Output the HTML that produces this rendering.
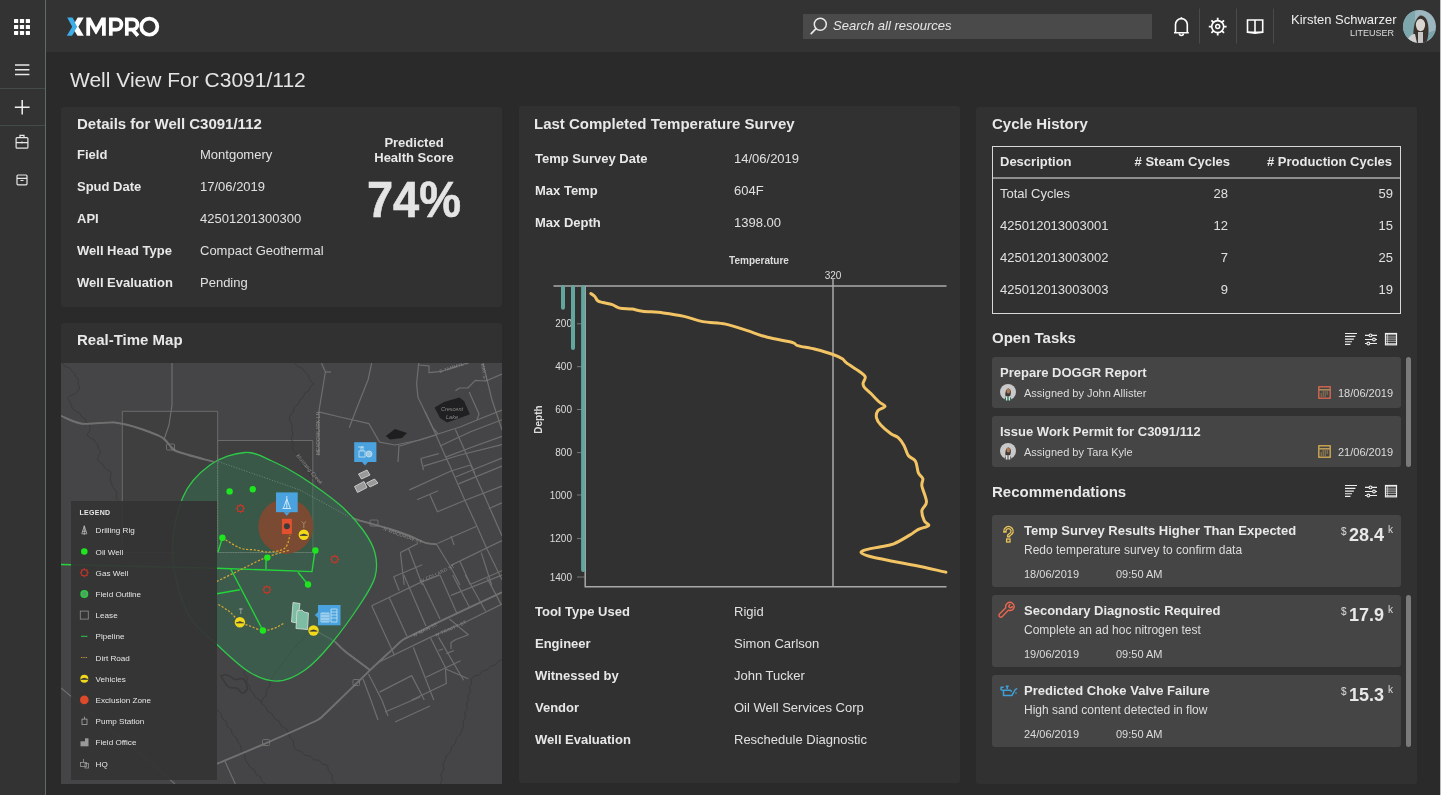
<!DOCTYPE html>
<html><head><meta charset="utf-8">
<style>
*{box-sizing:border-box;margin:0;padding:0}
html,body{width:1441px;height:795px;overflow:hidden;background:#2a2a2a;font-family:"Liberation Sans",sans-serif;color:#e6e6e6}
.a{position:absolute}
.t{white-space:nowrap;line-height:1}
#side{left:0;top:0;width:45px;height:795px;background:#333}
#sideline{left:45px;top:0;width:1px;height:795px;background:#5d6b6b}
#hdr{left:46px;top:0;width:1395px;height:52px;background:#333}
.panel{background:#313131;border-radius:3px}
.lbl{font-size:13px;font-weight:700;color:#e8e8e8}
.val{font-size:13px;color:#e0e0e0}
.ttl{font-size:15px;font-weight:700;color:#e8e8e8}
.card{background:#454545;border-radius:3px}
</style></head><body><div id="wrap" style="position:absolute;left:0;top:0;width:1441px;height:795px;will-change:transform">
<div id="side" class="a"></div>
<div id="sideline" class="a"></div>
<div id="hdr" class="a"></div>

<!-- sidebar icons -->
<svg class="a" style="left:0;top:0" width="45" height="200" viewBox="0 0 45 200">
 <g fill="#fff">
  <rect x="14" y="19" width="4.2" height="4" rx="0.6"/><rect x="19.9" y="19" width="4.2" height="4" rx="0.6"/><rect x="25.8" y="19" width="4.2" height="4" rx="0.6"/>
  <rect x="14" y="25" width="4.2" height="4" rx="0.6"/><rect x="19.9" y="25" width="4.2" height="4" rx="0.6"/><rect x="25.8" y="25" width="4.2" height="4" rx="0.6"/>
  <rect x="14" y="30.9" width="4.2" height="4" rx="0.6"/><rect x="19.9" y="30.9" width="4.2" height="4" rx="0.6"/><rect x="25.8" y="30.9" width="4.2" height="4" rx="0.6"/>
 </g>
 <g stroke="#e8e8e8" stroke-width="1.5" fill="none">
  <path d="M15 65h14.4M15 69.7h14.4M15 74.4h14.4"/>
  <path d="M22.2 100v14.6M14.8 107.3h14.8" stroke="#f0f0f0"/>
  <rect x="16.1" y="137.6" width="11.8" height="10.6" rx="1" stroke-width="1.2"/>
  <path d="M16.1 142.6h11.8M20 137.6v-2.2h4v2.2M22 141.5v2" stroke-width="1.2"/>
  <rect x="17" y="175" width="10" height="9.8" rx="1" stroke-width="1.2"/>
  <path d="M17 178.3h10M20.5 180.5h3" stroke-width="1.2"/>
 </g>
 <path d="M0 88.5h45M0 125.5h45" stroke="#444b4b" stroke-width="1"/>
</svg>
<!-- logo -->
<svg class="a" style="left:60px;top:10px" width="110" height="35" viewBox="60 10 110 35">
 <polygon fill="#3eaee8" points="67.2,17.6 72.5,17.6 77.6,26.7 72,35.8 66.8,35.8 72.2,26.7"/>
 <polygon fill="#fff" points="77.7,17.6 83.7,17.6 78.4,26.7 83.8,35.8 77.5,35.8 74.6,30.9 77.2,26.7 74.8,22.4"/>
 <polygon fill="#fff" points="86.3,35.8 86.3,17.6 90.6,17.6 96,27.4 101.4,17.6 105.8,17.6 105.8,35.8 102,35.8 102,24.8 96.4,34.2 95.6,34.2 90.1,24.8 90.1,35.8"/>
 <g fill="none" stroke="#fff" stroke-width="3.7">
  <path d="M110.8 35.8V19.45h5.6a5.05 5.05 0 0 1 0 10.1h-5.6"/>
  <path d="M126.8 35.8V19.45h5.6a5.05 5.05 0 0 1 0 10.1h-5.6M132.4 29.5l5.5 6.3"/>
  <circle cx="149.3" cy="26.7" r="8.05"/>
 </g>
</svg>
<!-- search -->
<div class="a" style="left:803px;top:14px;width:349px;height:25px;background:#4a4a4a"></div>
<svg class="a" style="left:808px;top:15px" width="22" height="22" viewBox="0 0 22 22">
 <circle cx="12.3" cy="9.3" r="6" fill="none" stroke="#e8e8e8" stroke-width="1.5"/>
 <path d="M8 13.6L3.2 18.6" stroke="#e8e8e8" stroke-width="1.7" stroke-linecap="round"/>
</svg>
<div class="a t" style="left:833px;top:19px;font-size:13px;font-style:italic;color:#e6e6e6">Search all resources</div>
<!-- header icons -->
<svg class="a" style="left:1165px;top:5px" width="120" height="42" viewBox="1165 5 120 42">
 <g fill="none" stroke="#fff" stroke-width="1.6">
  <path d="M1175.5 32.5V24.5a5.9 5.9 0 0 1 11.8 0V32.5M1174 32.8h14.8"/>
  <path d="M1181.4 17.2v1.2"/>
  <path d="M1179.4 33.5a2 2 0 0 0 4 0"/>
 </g>
 <path d="M1199.5 8.5v35M1236.5 8.5v35M1273.5 8.5v35" stroke="#4a4a4a" stroke-width="1"/>
 <g fill="none" stroke="#fff">
  <circle cx="1217.7" cy="26.6" r="6" stroke-width="1.6"/>
  <circle cx="1217.7" cy="26.6" r="2" stroke-width="1.5"/>
  <path d="M1217.7 17.7v2.9M1217.7 32.6v2.9M1208.8 26.6h2.9M1223.7 26.6h2.9M1211.4 20.3l2.1 2.1M1221.9 30.8l2.1 2.1M1224 20.3l-2.1 2.1M1213.5 30.8l-2.1 2.1" stroke-width="1.8"/>
 </g>
 <g fill="none" stroke="#fff" stroke-width="1.6">
  <path d="M1247.5 20v12.3h7.5v-12.3h-7.5zM1255 20h7.7v12.3h-7.7"/>
  <path d="M1247.5 32.3l7.5 0.8 7.7-0.8"/>
 </g>
</svg>
<div class="a t" style="left:1291px;top:13px;font-size:13px;color:#eee">Kirsten Schwarzer</div>
<div class="a t" style="left:1350px;top:29px;font-size:9px;color:#ddd">LITEUSER</div>
<svg class="a" style="left:1403px;top:10px" width="33" height="33" viewBox="0 0 33 33">
 <defs><clipPath id="av"><circle cx="16.5" cy="16.5" r="16.5"/></clipPath></defs>
 <g clip-path="url(#av)">
  <rect width="33" height="33" fill="#9cb7bf"/>
  <rect width="12" height="33" fill="#7ea6ad"/>
  <path d="M22 24 L33 20 V33 H24z" fill="#7aa3ab"/>
  <path d="M10.5 33 C10 22 10 10 17 5.5 C23 5 25.5 12 25.5 20 C25.5 27 24 31 23 33z" fill="#3b332e"/>
  <ellipse cx="17.5" cy="15" rx="4.6" ry="6.2" fill="#d9d5d0"/>
  <path d="M4 33 C5 26 9 24 12 24 L14 33z" fill="#d0d0d0"/>
  <path d="M15 22 h5 v11 h-5z" fill="#c7c7c7"/>
 </g>
</svg>

<!-- Title -->
<div class="a t" style="left:70px;top:69px;font-size:21px;color:#e4e4e4">Well View For C3091/112</div>

<!-- Panel 1 details -->
<div class="a panel" style="left:61px;top:107px;width:441px;height:200px"></div>
<div class="a t ttl" style="left:77px;top:116px">Details for Well C3091/112</div>
<div class="a t lbl" style="left:77px;top:148px">Field</div><div class="a t val" style="left:200px;top:148px">Montgomery</div>
<div class="a t lbl" style="left:77px;top:180px">Spud Date</div><div class="a t val" style="left:200px;top:180px">17/06/2019</div>
<div class="a t lbl" style="left:77px;top:212px">API</div><div class="a t val" style="left:200px;top:212px">42501201300300</div>
<div class="a t lbl" style="left:77px;top:244px">Well Head Type</div><div class="a t val" style="left:200px;top:244px">Compact Geothermal</div>
<div class="a t lbl" style="left:77px;top:276px">Well Evaluation</div><div class="a t val" style="left:200px;top:276px">Pending</div>
<div class="a lbl" style="left:354px;top:135px;width:120px;text-align:center;line-height:15px">Predicted<br>Health Score</div>
<div class="a t" style="left:354px;top:175px;width:120px;text-align:center;font-size:50px;font-weight:700;color:#e4e4e4;transform:scaleX(0.94);-webkit-text-stroke:0.6px #e4e4e4">74%</div>

<!-- Panel 2 map -->
<div class="a panel" style="left:61px;top:323px;width:441px;height:461px"></div>
<div class="a t ttl" style="left:77px;top:332px">Real-Time Map</div>
<!--MAP-->
<svg class="a" style="left:61px;top:363px" width="441" height="421" viewBox="61 363 441 421">
<rect x="61" y="363" width="441" height="421" fill="#454547"/>
<path d="M122.3 411.3H217.7V552.5H122.3Z" fill="#3f3f3f" stroke="#6b6b6b" stroke-width="1"/>
<path d="M217.7 440.5H312.8V552.5H217.7Z" fill="#3f3f3f" stroke="#6b6b6b" stroke-width="1"/>
<path d="M62.3 363.0 C62.7 363.5 63.8 365.5 64.9 366.2 C66.0 367.0 67.9 366.9 69.0 367.7 C70.1 368.4 70.7 370.0 71.6 370.9 C72.5 371.8 73.8 372.1 74.4 373.0 C75.0 374.0 74.8 375.7 75.4 376.7 C76.0 377.6 77.8 377.7 78.2 378.8 C78.6 379.9 77.8 382.0 78.1 383.6 C78.3 385.1 79.7 386.7 79.5 388.1 C79.3 389.5 77.9 390.9 76.8 392.0 C75.7 393.1 74.1 394.0 72.9 394.7 C71.7 395.4 70.7 395.4 69.8 396.1 C68.9 396.7 67.5 397.7 67.6 398.7 C67.7 399.7 69.6 401.0 70.3 402.3 C71.0 403.6 71.0 405.3 71.6 406.6 C72.2 407.9 72.8 408.9 73.6 409.8 C74.5 410.7 75.7 411.3 76.8 411.9 C77.9 412.5 79.2 412.6 80.0 413.5 C80.8 414.3 80.8 416.1 81.6 416.9 C82.4 417.8 84.1 417.7 84.8 418.5 C85.5 419.3 85.1 421.0 85.8 422.0 C86.5 422.9 88.3 423.3 89.0 424.2 C89.7 425.2 89.9 426.5 90.0 427.7 C90.1 428.9 89.9 430.2 89.4 431.3 C89.0 432.4 87.4 433.3 87.4 434.3 C87.4 435.3 88.5 436.7 89.5 437.5 C90.4 438.3 92.3 438.2 93.2 439.0 C94.2 439.8 94.5 441.2 95.3 442.2 C96.1 443.2 97.3 443.8 97.8 444.9 C98.2 446.0 97.7 447.7 98.1 448.8 C98.6 449.9 100.5 450.3 100.6 451.5 C100.7 452.7 99.0 454.3 98.5 455.9 C98.1 457.4 97.4 459.4 98.0 460.7 C98.6 462.0 100.8 462.3 101.9 463.4 C103.0 464.5 103.8 466.2 104.6 467.3 C105.4 468.4 105.9 469.3 106.8 469.9 C107.7 470.6 109.2 470.5 109.9 471.3 C110.6 472.1 111.1 473.5 111.1 474.7 C111.1 475.9 110.0 477.2 110.0 478.4 C110.0 479.6 110.8 480.5 111.2 481.8 C111.6 483.1 111.8 484.8 112.4 486.2 C113.1 487.5 114.4 488.6 115.1 489.8 C115.8 491.0 116.6 491.9 116.8 493.1 C116.9 494.3 116.0 495.8 116.1 497.0 C116.3 498.2 117.5 499.7 117.8 500.3" fill="none" stroke="#393939" stroke-width="0.9"/>
<path d="M295.0 363.0 C295.5 363.6 296.6 365.7 297.8 366.6 C299.0 367.5 301.0 367.5 302.2 368.4 C303.4 369.3 303.9 370.8 305.0 372.0 C306.1 373.2 307.7 374.1 308.5 375.5 C309.4 376.9 309.2 379.1 310.1 380.5 C310.9 381.9 313.6 383.0 313.6 384.0 C313.6 385.0 311.1 385.5 310.3 386.7 C309.5 387.8 309.7 389.9 308.8 390.9 C307.9 392.0 305.7 392.0 304.8 393.1 C303.9 394.1 304.1 396.2 303.3 397.3 C302.5 398.5 300.9 398.8 300.0 400.0 C299.1 401.2 299.1 403.1 298.1 404.4 C297.2 405.6 295.1 406.1 294.2 407.5 C293.4 408.8 293.8 410.9 293.0 412.3 C292.3 413.7 290.3 414.4 289.8 415.8 C289.3 417.2 289.4 419.1 289.7 420.7 C290.1 422.2 291.7 423.6 292.1 425.1 C292.4 426.7 291.9 428.5 292.0 430.0 C292.1 431.5 293.0 432.9 292.9 434.4 C292.8 435.8 291.4 437.3 291.4 438.8 C291.4 440.2 292.9 441.7 293.1 443.1 C293.3 444.6 292.3 446.1 292.4 447.5 C292.5 448.9 293.0 450.5 293.8 451.6 C294.6 452.8 296.6 453.4 297.3 454.6 C298.0 455.9 297.3 457.9 298.0 459.1 C298.7 460.4 300.8 460.9 301.5 462.1 C302.2 463.4 301.6 465.3 302.2 466.6 C302.8 468.0 303.9 469.0 305.0 470.0 C306.1 471.0 307.9 471.6 308.9 472.8 C309.9 474.1 309.9 476.2 311.0 477.4 C312.1 478.5 314.4 478.5 315.5 479.6 C316.6 480.8 316.6 482.9 317.6 484.2 C318.6 485.4 320.9 486.5 321.5 487.0" fill="none" stroke="#393939" stroke-width="0.9"/>
<path d="M308.0 633.9 C307.4 634.3 305.3 635.3 304.3 636.4 C303.4 637.6 303.4 639.6 302.4 640.7 C301.3 641.7 299.2 641.6 298.1 642.6 C297.1 643.7 297.1 645.7 296.2 646.9 C295.2 648.0 293.5 648.3 292.5 649.4 C291.5 650.5 291.4 652.5 290.4 653.7 C289.3 655.0 287.2 655.4 286.3 656.7 C285.4 658.0 285.7 660.2 284.8 661.5 C283.9 662.8 281.6 663.1 280.7 664.4 C279.8 665.7 280.1 667.9 279.2 669.2 C278.3 670.5 276.2 670.9 275.1 672.2 C274.1 673.4 273.8 675.1 273.0 676.5 C272.2 677.9 270.9 679.1 270.3 680.7 C269.8 682.3 270.5 684.3 269.9 685.8 C269.3 687.4 267.2 688.2 266.5 689.7 C265.9 691.2 266.7 693.4 266.1 694.9 C265.4 696.4 263.4 697.3 262.7 698.8 C261.9 700.2 261.0 702.3 261.5 703.6 C262.0 704.9 264.4 705.4 265.5 706.7 C266.5 708.0 266.6 710.2 267.7 711.4 C268.8 712.6 271.1 712.8 272.2 714.0 C273.4 715.2 273.3 717.5 274.5 718.7 C275.6 719.9 277.9 720.0 279.0 721.2 C280.2 722.5 280.1 724.8 281.2 726.0 C282.4 727.2 284.6 727.4 285.8 728.5 C287.0 729.6 287.9 731.2 288.6 732.7 C289.3 734.2 289.0 736.0 289.8 737.4 C290.6 738.7 292.6 739.6 293.2 741.0 C293.9 742.5 293.2 744.5 293.7 746.0 C294.2 747.5 295.2 749.1 296.4 750.0 C297.6 750.9 299.8 750.7 301.2 751.5 C302.6 752.4 303.4 754.4 304.9 755.2 C306.3 755.9 308.5 755.2 310.0 756.0 C311.5 756.7 312.2 758.9 313.7 759.6 C315.2 760.4 317.4 759.7 318.8 760.4 C320.3 761.2 321.1 763.2 322.5 764.1 C323.9 764.9 326.3 764.5 327.3 765.6 C328.3 766.7 327.7 769.0 328.5 770.5 C329.3 772.0 331.2 773.0 331.9 774.5 C332.5 776.0 331.8 778.1 332.3 779.7 C332.9 781.3 334.6 783.3 335.0 784.0" fill="none" stroke="#393939" stroke-width="0.9"/>
<path d="M215.0 705.5 C215.3 706.3 215.9 708.7 216.9 710.0 C217.9 711.3 220.0 711.9 220.8 713.3 C221.7 714.6 221.2 716.8 222.1 718.2 C222.9 719.6 225.1 720.1 226.0 721.4 C226.8 722.8 226.4 725.0 227.2 726.4 C228.1 727.7 230.3 728.2 231.1 729.6 C232.0 731.0 231.5 733.2 232.4 734.5 C233.2 735.9 235.3 736.5 236.3 737.8 C237.3 739.1 237.4 740.9 238.2 742.3 C239.0 743.7 240.4 744.8 240.9 746.2 C241.4 747.7 240.7 749.8 241.4 751.2 C242.0 752.6 244.2 753.4 244.8 754.8 C245.5 756.2 244.8 758.3 245.3 759.8 C245.8 761.2 247.2 762.4 248.0 763.7 C248.8 765.0 249.2 766.6 250.3 767.6 C251.4 768.6 253.4 768.8 254.4 769.9 C255.4 771.1 255.1 773.2 256.1 774.4 C257.1 775.5 259.2 775.6 260.2 776.7 C261.2 777.8 261.0 779.9 261.9 781.1 C262.8 782.4 264.8 783.5 265.4 784.0" fill="none" stroke="#393939" stroke-width="0.9"/>
<path d="M502.0 659.9 C501.3 660.2 499.0 660.7 497.8 661.6 C496.6 662.5 496.1 664.5 494.8 665.3 C493.5 666.1 491.4 665.5 490.1 666.3 C488.9 667.1 488.4 669.2 487.2 670.0 C485.9 670.8 483.8 670.2 482.5 671.0 C481.2 671.8 480.8 674.0 479.5 674.8 C478.3 675.5 476.2 675.1 474.9 675.8 C473.6 676.4 472.0 677.6 471.5 678.8 C471.0 680.0 472.0 681.8 471.7 683.2 C471.3 684.6 469.6 685.7 469.4 687.2 C469.2 688.6 470.6 690.2 470.4 691.6 C470.2 693.1 468.5 694.2 468.1 695.6 C467.8 697.0 468.6 698.6 468.3 700.0 C468.0 701.4 466.8 702.7 466.6 704.1 C466.4 705.6 467.6 707.3 467.3 708.7 C467.0 710.2 465.1 711.3 464.8 712.7 C464.5 714.1 465.8 715.9 465.5 717.3 C465.2 718.7 463.3 719.8 463.0 721.3 C462.7 722.7 463.9 724.4 463.7 725.9 C463.5 727.3 462.6 728.5 462.0 730.0 C461.4 731.5 461.2 733.3 460.3 734.7 C459.3 736.0 457.3 736.7 456.4 738.2 C455.6 739.6 456.2 741.8 455.4 743.3 C454.6 744.7 452.4 745.3 451.6 746.7 C450.8 748.2 451.4 750.4 450.6 751.8 C449.7 753.3 447.7 754.0 446.7 755.3 C445.8 756.7 445.6 758.4 445.0 760.0 C444.4 761.6 443.4 763.0 443.2 764.6 C443.0 766.3 444.1 768.2 443.8 769.8 C443.4 771.4 441.6 772.6 441.2 774.2 C440.9 775.8 442.0 777.7 441.8 779.4 C441.6 781.0 440.3 783.2 440.0 784.0" fill="none" stroke="#393939" stroke-width="0.9"/>
<path d="M244.0 670.7 C244.1 671.4 243.9 673.6 244.4 674.8 C245.0 676.0 246.8 676.9 247.2 678.2 C247.6 679.5 246.4 681.2 246.8 682.5 C247.2 683.8 249.0 684.7 249.6 685.9 C250.1 687.1 249.3 688.8 250.0 690.0 C250.7 691.2 252.6 691.7 253.5 692.9 C254.3 694.1 254.2 696.2 255.1 697.3 C256.1 698.4 258.2 698.6 259.2 699.7 C260.3 700.7 261.1 702.9 261.5 703.6" fill="none" stroke="#393939" stroke-width="0.9"/>
<g fill="none" stroke="#6e6e6e" stroke-width="1.2" stroke-linejoin="round">
<path d="M61.0 415.8 L70.0 419.5 L82.0 423.7 L100.0 423.0 L113.8 422.4 L135.0 427.0 L161.4 437.0 L169.3 444.9 L177.2 451.5 L214.2 462.0"/>
<path d="M172.0 363.0 L172.0 405.0 L169.0 425.0 L164.0 439.6"/>
<path d="M321.5 363.0 L325.4 372.0 L318.8 411.9 L340.0 417.0 L369.0 423.7 L379.6 442.2 L395.0 445.0 L420.0 440.0 L436.0 435.0"/>
<path d="M371.7 363.0 L368.0 380.0 L358.0 405.0 L349.2 427.7"/>
<path d="M318.8 411.9 L318.8 455.4"/>
<path d="M399.0 445.0 L398.0 462.0"/>
<path d="M325.0 372.0 L331.0 372.0"/>
<path d="M352.0 518.0 L358.5 520.1 L390.0 529.0 L410.0 536.0 L425.3 542.8 L436.6 544.3 L451.0 567.7 L460.0 585.0"/>
<path d="M400.4 552.6 L417.8 543.5"/>
<path d="M400.4 552.6 L404.2 585.0"/>
<path d="M408.7 548.8 L422.3 585.0"/>
<path d="M418.7 363.0 L416.6 383.8 L418.0 397.6 L424.9 411.4 L436.0 435.0 L445.7 457.1 L449.5 465.0 L464.6 499.7 L476.6 525.4 L487.2 549.6 L502.0 579.8"/>
<path d="M483.0 363.0 L492.0 400.0 L502.0 430.0"/>
<path d="M470.6 465.0 L484.2 495.2 L502.0 536.0"/>
<path d="M418.7 365.0 L429.0 365.8 L429.0 372.7 L441.5 371.3 L467.8 363.0"/>
<path d="M455.4 390.7 L459.5 388.0 L467.8 388.0 L475.4 380.3 L485.8 381.0 L502.0 374.0"/>
<path d="M424.9 411.4 L433.0 428.0 L438.0 434.0"/>
<path d="M477.0 420.0 L479.0 414.0 L469.2 392.0"/>
<path d="M400.0 446.0 L438.0 434.0 L460.0 427.0 L477.0 420.0 L502.0 410.0"/>
<path d="M440.0 446.0 L470.0 432.0 L502.0 419.7"/>
<path d="M445.7 457.1 L475.0 446.0 L502.0 436.4"/>
<path d="M420.8 458.5 L438.8 453.6"/>
<path d="M420.8 458.5 L423.5 470.0"/>
<path d="M423.5 466.1 L460.0 455.0 L502.0 444.7"/>
<path d="M455.4 429.4 L474.7 473.0"/>
<path d="M409.4 489.9 L451.0 471.0 L470.6 465.0"/>
<path d="M455.5 477.0 L473.6 469.5 L502.0 458.0"/>
<path d="M458.5 483.9 L502.0 466.0"/>
<path d="M417.0 499.7 L438.1 490.7"/>
<path d="M429.8 494.4 L437.4 511.8 L464.6 500.5 L502.0 486.1"/>
<path d="M437.4 543.5 L476.6 526.2"/>
<path d="M488.7 508.8 L502.0 502.8"/>
<path d="M451.0 565.4 L502.0 540.5"/>
<path d="M470.6 584.3 L502.0 570.7"/>
<path d="M393.6 576.7 L422.3 564.7"/>
<path d="M460.0 561.6 L470.6 585.0"/>
<path d="M481.2 552.6 L491.7 585.0"/>
<path d="M451.0 536.0 L454.0 545.0"/>
<path d="M318.0 632.0 L335.0 641.6 L345.0 651.3 L370.1 670.1"/>
<path d="M217.0 763.7 L263.4 744.3 L315.7 721.0 L323.5 715.2 L339.4 700.0 L370.1 670.1 L392.9 648.9 L402.3 640.2 L413.3 634.7 L440.0 621.4 L502.0 592.3"/>
<path d="M377.2 663.0 L430.6 637.1 L465.2 622.2 L502.0 604.1"/>
<path d="M371.7 605.7 L421.2 582.1 L440.0 575.0"/>
<path d="M371.7 605.7 L394.5 655.2"/>
<path d="M389.0 597.0 L407.0 636.3"/>
<path d="M403.9 575.0 L425.9 626.1"/>
<path d="M422.7 582.9 L440.0 619.0"/>
<path d="M393.7 576.6 L399.2 590.7"/>
<path d="M440.0 575.0 L457.3 614.3"/>
<path d="M452.6 575.0 L469.9 608.0"/>
<path d="M465.2 575.0 L485.6 611.2"/>
<path d="M487.2 578.1 L501.3 604.9"/>
<path d="M451.0 595.4 L502.0 575.0"/>
<path d="M413.3 647.3 L433.8 700.0"/>
<path d="M430.6 637.9 L446.3 669.3 L468.3 678.8"/>
<path d="M438.5 637.1 L463.6 680.3"/>
<path d="M449.5 619.0 L468.3 634.7 L455.8 639.5 L451.0 642.6 L451.0 649.0"/>
<path d="M438.5 650.5 L443.0 649.0"/>
<path d="M446.3 653.6 L454.0 650.5"/>
<path d="M425.9 677.2 L460.5 660.7"/>
<path d="M379.5 692.1 L411.7 675.6 L424.3 700.0"/>
<path d="M363.0 678.8 L370.9 700.0"/>
<path d="M368.5 674.0 L381.9 700.0"/>
<path d="M411.7 700.0 L446.3 683.5 L445.5 669.0"/>
<path d="M370.9 700.0 L378.0 720.0"/>
<path d="M381.9 700.0 L388.0 716.0"/>
<path d="M385.0 712.0 L420.0 697.0"/>
<path d="M395.0 722.0 L430.0 706.0"/>
<path d="M224.7 760.7 L235.3 784.0"/>
<path d="M61.0 688.0 L90.0 712.0 L120.0 737.0 L150.0 762.0 L175.0 784.0"/>
</g>
<g fill="none" stroke="#707070" stroke-width="1.9" stroke-linejoin="round">
<path d="M61.0 415.8 C64.5 417.1 73.2 422.6 82.0 423.7 C90.8 424.8 105.0 421.8 113.8 422.4 C122.6 422.9 127.1 424.6 135.0 427.0 C142.9 429.4 155.7 434.0 161.4 437.0 C167.1 440.0 166.7 442.5 169.3 444.9 C171.9 447.3 169.7 448.6 177.2 451.5 C184.7 454.4 208.0 460.2 214.2 462.0"/>
<path d="M352.0 518.0 C353.1 518.4 352.2 518.3 358.5 520.1 C364.8 521.9 381.4 526.4 390.0 529.0 C398.6 531.6 404.1 533.7 410.0 536.0 C415.9 538.3 420.9 541.4 425.3 542.8 C429.7 544.2 434.7 544.0 436.6 544.3"/>
<path d="M217.0 763.7 C224.7 760.5 246.9 751.4 263.4 744.3 C279.8 737.2 305.7 725.9 315.7 721.0 C325.7 716.1 319.6 718.7 323.5 715.2 C327.4 711.7 331.6 707.5 339.4 700.0 C347.2 692.5 361.2 678.6 370.1 670.1 C379.0 661.6 387.5 653.9 392.9 648.9 C398.3 643.9 398.9 642.6 402.3 640.2 C405.7 637.8 407.0 637.8 413.3 634.7 C419.6 631.6 425.2 628.5 440.0 621.4 C454.8 614.3 491.7 597.1 502.0 592.3"/>
<path d="M335.0 641.6 C336.7 643.2 339.1 646.5 345.0 651.3 C350.9 656.0 365.9 667.0 370.1 670.1"/>
</g>
<path d="M221 676 q6 -3 10 1 q4 4 8 2 q5 -2 7 4 q3 6 -1 9 q-3 3 -5 -1 q-3 -4 -7 -3 q-5 0 -7 -4 q-3 -4 -5 -8z" fill="none" stroke="#3a3a3a" stroke-width="1.6"/>
<path d="M434.6 407.5 L444 402 L459.5 397.6 L464 401 L469.9 414.2 L460 418 L447 422.5 L440 418Z" fill="#202022"/>
<path d="M385.8 436 L395 429 L407 433 L402 438 L390 439.6Z" fill="#1e1e1e"/>
<g font-family="Liberation Sans" font-style="italic" font-size="5.5" fill="#8a8a8a" text-anchor="middle"><text x="452" y="411">Crescent</text><text x="452" y="419">Lake</text></g>
<path d="M245.0 452.5 C255.3 451.8 262.8 457.1 272.0 461.0 C281.2 464.9 288.7 468.7 300.0 476.0 C311.3 483.3 329.5 496.0 340.0 505.0 C350.5 514.0 357.2 522.0 363.0 530.0 C368.8 538.0 373.0 545.2 375.0 553.0 C377.0 560.8 377.3 568.7 375.0 577.0 C372.7 585.3 368.3 591.8 361.0 603.0 C353.7 614.2 340.3 632.8 331.0 644.0 C321.7 655.2 313.8 663.8 305.0 670.0 C296.2 676.2 287.2 680.6 278.0 681.0 C268.8 681.4 260.1 678.5 250.0 672.5 C239.9 666.5 228.0 655.1 217.5 645.0 C207.0 634.9 194.5 627.3 187.0 612.0 C179.5 596.7 173.2 572.2 172.5 553.0 C171.8 533.8 176.8 511.7 183.0 497.0 C189.2 482.3 199.7 472.4 210.0 465.0 C220.3 457.6 234.7 453.2 245.0 452.5Z" fill="#347252" fill-opacity="0.5" stroke="#2fc94a" stroke-width="1.3"/>
<path d="M217.7 455V552.5H312.8" fill="none" stroke="#7a8a80" stroke-width="0.8" stroke-dasharray="1.5 1" opacity="0.8"/>
<path d="M215.8 460.7L260 476L300 490L347.9 516.2" fill="none" stroke="#8a9a95" stroke-width="1" stroke-dasharray="1.2 1.5" opacity="0.6"/>
<circle cx="285.8" cy="526.4" r="27.5" fill="#7a4a32"/>
<g fill="none" stroke="#24d43a" stroke-width="1.4">
<path d="M61.0 564.5 L216.9 568.2 L312.0 571.6 L315.0 550.7"/>
<path d="M266.0 557.5 L266.0 569.0"/>
<path d="M298.0 572.2 L308.0 584.5"/>
<path d="M230.7 569.0 L262.9 630.5"/>
<path d="M216.9 593.7 L239.9 589.7"/>
<path d="M222.4 537.8 L218.0 552.0"/>
</g>
<g fill="none" stroke="#d9a932" stroke-width="1.2" stroke-dasharray="2.2 1.6">
<path d="M222.4 537.8 C225.3 539.5 234.6 546.0 240.0 548.0 C245.4 550.0 250.0 549.3 255.0 550.0 C260.0 550.7 265.0 552.3 270.0 552.0 C275.0 551.7 281.7 550.8 285.0 548.0 C288.3 545.2 289.2 537.2 290.0 535.0"/>
<path d="M216.9 581.4 C220.8 579.5 231.8 574.0 240.0 570.0 C248.2 566.0 257.7 560.8 266.0 557.5 C274.3 554.2 286.0 551.2 290.0 550.0"/>
<path d="M218.4 604.4 C220.3 605.7 226.4 609.0 230.0 612.0 C233.6 615.0 236.6 619.9 239.9 622.2 C243.2 624.5 246.2 624.6 250.0 626.0 C253.8 627.4 258.7 630.2 262.9 630.5 C267.1 630.8 271.4 629.3 275.0 628.0 C278.6 626.7 282.8 623.7 284.4 622.8"/>
</g>
<circle cx="229.6" cy="491.4" r="3.2" fill="#1ee61e"/><circle cx="252.8" cy="489.2" r="3.2" fill="#1ee61e"/><circle cx="222.4" cy="537.8" r="3.2" fill="#1ee61e"/><circle cx="267.3" cy="557.6" r="3.2" fill="#1ee61e"/><circle cx="315.4" cy="550.5" r="3.2" fill="#1ee61e"/><circle cx="308" cy="584.5" r="3.2" fill="#1ee61e"/><circle cx="262.9" cy="630.5" r="3.2" fill="#1ee61e"/>
<circle cx="240.4" cy="508.5" r="3.1" fill="none" stroke="#c0392b" stroke-width="1.2"/><path d="M243.50 508.50L244.90 508.50" stroke="#c0392b" stroke-width="1.1"/><path d="M242.59 510.69L243.58 511.68" stroke="#c0392b" stroke-width="1.1"/><path d="M240.40 511.60L240.40 513.00" stroke="#c0392b" stroke-width="1.1"/><path d="M238.21 510.69L237.22 511.68" stroke="#c0392b" stroke-width="1.1"/><path d="M237.30 508.50L235.90 508.50" stroke="#c0392b" stroke-width="1.1"/><path d="M238.21 506.31L237.22 505.32" stroke="#c0392b" stroke-width="1.1"/><path d="M240.40 505.40L240.40 504.00" stroke="#c0392b" stroke-width="1.1"/><path d="M242.59 506.31L243.58 505.32" stroke="#c0392b" stroke-width="1.1"/><circle cx="334.7" cy="559.3" r="3.1" fill="none" stroke="#c0392b" stroke-width="1.2"/><path d="M337.80 559.30L339.20 559.30" stroke="#c0392b" stroke-width="1.1"/><path d="M336.89 561.49L337.88 562.48" stroke="#c0392b" stroke-width="1.1"/><path d="M334.70 562.40L334.70 563.80" stroke="#c0392b" stroke-width="1.1"/><path d="M332.51 561.49L331.52 562.48" stroke="#c0392b" stroke-width="1.1"/><path d="M331.60 559.30L330.20 559.30" stroke="#c0392b" stroke-width="1.1"/><path d="M332.51 557.11L331.52 556.12" stroke="#c0392b" stroke-width="1.1"/><path d="M334.70 556.20L334.70 554.80" stroke="#c0392b" stroke-width="1.1"/><path d="M336.89 557.11L337.88 556.12" stroke="#c0392b" stroke-width="1.1"/><circle cx="266.9" cy="589.7" r="3.1" fill="none" stroke="#c0392b" stroke-width="1.2"/><path d="M270.00 589.70L271.40 589.70" stroke="#c0392b" stroke-width="1.1"/><path d="M269.09 591.89L270.08 592.88" stroke="#c0392b" stroke-width="1.1"/><path d="M266.90 592.80L266.90 594.20" stroke="#c0392b" stroke-width="1.1"/><path d="M264.71 591.89L263.72 592.88" stroke="#c0392b" stroke-width="1.1"/><path d="M263.80 589.70L262.40 589.70" stroke="#c0392b" stroke-width="1.1"/><path d="M264.71 587.51L263.72 586.52" stroke="#c0392b" stroke-width="1.1"/><path d="M266.90 586.60L266.90 585.20" stroke="#c0392b" stroke-width="1.1"/><path d="M269.09 587.51L270.08 586.52" stroke="#c0392b" stroke-width="1.1"/>
<rect x="276" y="492.4" width="21.7" height="19.8" fill="#4aa3df"/><path d="M283.6 512.2L286.8 515.8L290 512.2Z" fill="#4aa3df"/>
<path d="M286.8 496v12M283.5 508l3.3-9 3.3 9M282.5 508.5h8.6" stroke="#d8ecf8" stroke-width="0.9" fill="none"/>
<rect x="281.9" y="518.8" width="10" height="15.3" fill="#e2502f"/><circle cx="286.9" cy="526.2" r="3" fill="#3b3b3b"/>
<path d="M303.8 528v-5M301.5 521.5l2.3 2 2.3-2" stroke="#a08a6a" stroke-width="1" fill="none"/>
<circle cx="303.8" cy="534.7" r="5.2" fill="#f2d81a"/><path d="M300.6 535.2q3.2 -3 6.4 0z" fill="#3a3a3a"/><path d="M300.0 535.3000000000001h7.6" stroke="#3a3a3a" stroke-width="1"/>
<circle cx="239.9" cy="622.2" r="5.2" fill="#f2d81a"/><path d="M236.70000000000002 622.7q3.2 -3 6.4 0z" fill="#3a3a3a"/><path d="M236.1 622.8000000000001h7.6" stroke="#3a3a3a" stroke-width="1"/>
<circle cx="313.5" cy="630.5" r="5.2" fill="#f2d81a"/><path d="M310.3 631.0q3.2 -3 6.4 0z" fill="#3a3a3a"/><path d="M309.7 631.1h7.6" stroke="#3a3a3a" stroke-width="1"/>
<rect x="354.2" y="442.2" width="22.2" height="19.8" fill="#4aa3df"/><path d="M362 462L365 465.5L368 462Z" fill="#4aa3df"/>
<g stroke="#c9e3f3" stroke-width="0.8" fill="none"><rect x="359" y="451" width="6" height="6"/><path d="M361 451v-4h2v4M358 447h6"/><circle cx="369" cy="454" r="3" fill="#9cc9e6"/></g>
<g fill="#9a9a9a" stroke="#d0d0d0" stroke-width="0.9"><path d="M358.5 474l8.5-4 3 5-8.5 4z"/><path d="M354.5 486.5l9.5-5 3 6-9.5 5z"/><path d="M366.5 483l8-4 3.5 4-8 4z"/></g>
<g fill="#7dbda3" stroke="#dddddd" stroke-width="0.8"><path d="M293 602.5L300 603.5L297.5 623L291.5 622Z"/><path d="M297 611L302 610L304 612L308.5 613L307.5 629.5L296 628.5Z"/></g>
<rect x="318" y="605" width="22.5" height="20.3" fill="#4aa3df"/><path d="M318 612L314.8 615L318 618Z" fill="#4aa3df"/>
<g stroke="#d8ecf8" stroke-width="0.7" fill="none"><path d="M321 613h8v9h-8zM323 613v9M325 613v9M327 613v9M321 616h8M321 619h8M331 609h6v13h-6zM331 612h6M331 615h6M331 618h6"/></g>
<path d="M240.8 608v6M238.8 609h4" stroke="#9aa39d" stroke-width="0.9"/>
<g fill="none" stroke="#7a7a7a" stroke-width="0.8"><rect x="166.5" y="444" width="8" height="6" rx="1"/><rect x="353" y="679.5" width="6.5" height="6" rx="1"/><rect x="262.5" y="739.5" width="7" height="6" rx="1"/><rect x="370" y="520" width="8" height="6" rx="1"/></g>
<g font-family="Liberation Sans" font-size="4.6" fill="#8c8c8c" letter-spacing="0.2"><text x="383" y="530" transform="rotate(20 383 530)">N·WOODROW·ST</text><text x="414" y="637" transform="rotate(-26 414 637)">W·MAIN·ST</text><text x="436" y="637" transform="rotate(-24 436 637)">W·TRINITY·ST</text><text x="421" y="583" transform="rotate(-25 421 583)">W·COLLARD·ST</text><text x="296" y="456" transform="rotate(50 296 456)" font-style="italic" font-size="5.2">Mustang Creek</text><text x="320" y="455" transform="rotate(-90 320 455)">MEADOWLARK·LN</text><text x="440" y="373" transform="rotate(-18 440 373)">S·TAMMYE·LN</text><text x="481" y="364" transform="rotate(80 481 364)">MAY·ST</text></g>
<rect x="71" y="501" width="146" height="279" fill="#343434" fill-opacity="0.94"/>
<g font-family="Liberation Sans" fill="#e6e6e6" font-size="8.1">
<text x="79.5" y="515" font-weight="700" font-size="7" letter-spacing="0.3">LEGEND</text>
<text x="95.6" y="533.3">Drilling Rig</text>
<text x="95.6" y="554.5">Oil Well</text>
<text x="95.6" y="575.7">Gas Well</text>
<text x="95.6" y="596.9">Field Outline</text>
<text x="95.6" y="618.1">Lease</text>
<text x="95.6" y="639.3">Pipeline</text>
<text x="95.6" y="660.5">Dirt Road</text>
<text x="95.6" y="681.7">Vehicles</text>
<text x="95.6" y="702.9">Exclusion Zone</text>
<text x="95.6" y="724.1">Pump Station</text>
<text x="95.6" y="745.3">Field Office</text>
<text x="95.6" y="766.5">HQ</text>
</g>
<path d="M84.3 525.8l-2.5 8h5zM84.3 525.8v9M82.3 531.3h4" fill="none" stroke="#bbb" stroke-width="0.8"/>
<circle cx="84.3" cy="551.5" r="3.3" fill="#1ee61e"/>
<circle cx="84.3" cy="572.6999999999999" r="3.1" fill="none" stroke="#b8352a" stroke-width="1.2"/><path d="M87.40 572.70L88.80 572.70" stroke="#b8352a" stroke-width="1.1"/><path d="M86.49 574.89L87.48 575.88" stroke="#b8352a" stroke-width="1.1"/><path d="M84.30 575.80L84.30 577.20" stroke="#b8352a" stroke-width="1.1"/><path d="M82.11 574.89L81.12 575.88" stroke="#b8352a" stroke-width="1.1"/><path d="M81.20 572.70L79.80 572.70" stroke="#b8352a" stroke-width="1.1"/><path d="M82.11 570.51L81.12 569.52" stroke="#b8352a" stroke-width="1.1"/><path d="M84.30 569.60L84.30 568.20" stroke="#b8352a" stroke-width="1.1"/><path d="M86.49 570.51L87.48 569.52" stroke="#b8352a" stroke-width="1.1"/>
<circle cx="84.3" cy="593.9" r="4" fill="#2fc94a"/><circle cx="84.3" cy="593.9" r="2.5" fill="#49a35a"/>
<rect x="80.3" y="611.0999999999999" width="8" height="8" fill="none" stroke="#888" stroke-width="0.9"/>
<path d="M81 636.3h6.5" stroke="#2fc94a" stroke-width="1"/>
<path d="M81 657.5h6.5" stroke="#c79a3a" stroke-width="1" stroke-dasharray="1.3 1"/>
<circle cx="84.3" cy="678.6999999999999" r="4" fill="#f2d81a"/><path d="M81.1 679.1999999999999q3.2 -3 6.4 0z" fill="#3a3a3a"/><path d="M80.5 679.3h7.6" stroke="#3a3a3a" stroke-width="1"/>
<circle cx="84.3" cy="699.9" r="4.3" fill="#dd4a2a"/>
<g fill="none" stroke="#aaa" stroke-width="0.8"><rect x="82" y="719.0999999999999" width="5" height="5.5"/><path d="M84.5 716.5999999999999v2.5"/></g>
<g fill="#999"><rect x="80.5" y="741.3" width="5" height="5"/><rect x="85" y="738.3" width="3.5" height="8"/></g>
<g fill="none" stroke="#999" stroke-width="0.8"><rect x="80.5" y="762.5" width="6" height="4"/><rect x="85" y="763.5" width="3.5" height="4.5"/><path d="M83.5 759.0v3.5"/></g>
</svg>
<!--/MAP-->

<!-- Panel 3 temp -->
<div class="a panel" style="left:519px;top:106px;width:441px;height:677px"></div>
<div class="a t ttl" style="left:534px;top:116px">Last Completed Temperature Survey</div>
<div class="a t lbl" style="left:535px;top:152px">Temp Survey Date</div><div class="a t val" style="left:734px;top:152px">14/06/2019</div>
<div class="a t lbl" style="left:535px;top:184px">Max Temp</div><div class="a t val" style="left:734px;top:184px">604F</div>
<div class="a t lbl" style="left:535px;top:216px">Max Depth</div><div class="a t val" style="left:734px;top:216px">1398.00</div>
<svg class="a" style="left:519px;top:240px" width="441" height="360" viewBox="519 240 441 360">
 <g font-family="Liberation Sans" font-size="10" fill="#ddd">
  <text x="759" y="264" text-anchor="middle" font-weight="700">Temperature</text>
  <text x="833" y="279" text-anchor="middle">320</text>
  <text transform="translate(541.5 419.5) rotate(-90)" text-anchor="middle" font-weight="700">Depth</text>
  <path d="M577 323.8h7.5" stroke="#777" stroke-width="1"/><text x="572" y="327.4" text-anchor="end">200</text><path d="M577 366.7h7.5" stroke="#777" stroke-width="1"/><text x="572" y="370.3" text-anchor="end">400</text><path d="M577 409.5h7.5" stroke="#777" stroke-width="1"/><text x="572" y="413.1" text-anchor="end">600</text><path d="M577 452.6h7.5" stroke="#777" stroke-width="1"/><text x="572" y="456.2" text-anchor="end">800</text><path d="M577 495.0h7.5" stroke="#777" stroke-width="1"/><text x="572" y="498.6" text-anchor="end">1000</text><path d="M577 538.6h7.5" stroke="#777" stroke-width="1"/><text x="572" y="542.2" text-anchor="end">1200</text><path d="M577 577.0h7.5" stroke="#777" stroke-width="1"/><text x="572" y="580.6" text-anchor="end">1400</text>
 </g>
 <path d="M553.5 286h393M585.2 286v300.7h361.3M833 278v308.7" stroke="#a9a9a9" stroke-width="1.5" fill="none"/>
 <g stroke="#62a79d" stroke-width="4" stroke-linecap="round">
  <path d="M563 287v20.7M573 287v61M583.1 287v283"/>
 </g>
 <path d="M590.8 293.5 C591.4 293.9 593.5 295.0 594.6 296.2 C595.8 297.4 596.3 299.8 597.7 300.8 C599.1 301.9 600.5 301.9 602.9 302.5 C605.3 303.1 609.5 303.7 612.3 304.6 C615.1 305.5 616.3 307.4 619.6 308.1 C622.9 308.9 628.2 308.6 632.0 309.1 C635.8 309.6 637.3 310.6 642.5 311.2 C647.7 311.8 656.4 312.0 663.3 312.9 C670.2 313.8 677.5 314.9 684.1 316.4 C690.7 317.8 695.9 320.3 702.8 321.6 C709.7 322.9 718.4 322.6 725.7 324.1 C733.0 325.6 739.7 328.2 746.6 330.4 C753.5 332.6 759.8 335.3 767.4 337.3 C775.0 339.3 787.4 341.1 792.4 342.5 C797.4 343.9 793.8 344.5 797.6 345.6 C801.4 346.7 809.4 347.8 815.3 349.3 C821.2 350.8 828.5 352.9 833.0 354.5 C837.5 356.1 840.0 357.3 842.3 358.7 C844.5 360.1 843.7 360.8 846.5 362.9 C849.3 365.0 855.9 368.9 859.0 371.2 C862.1 373.5 864.5 374.8 865.2 376.8 C865.9 378.8 863.3 381.4 863.1 383.1 C862.9 384.8 862.9 385.5 864.2 387.2 C865.5 388.9 868.2 390.8 870.7 393.3 C873.2 395.8 876.9 399.8 879.3 402.0 C881.7 404.2 885.3 404.9 885.1 406.3 C884.9 407.8 879.3 408.8 877.9 410.7 C876.5 412.6 876.0 415.5 876.5 417.9 C877.0 420.3 878.4 422.5 880.8 425.1 C883.2 427.8 888.0 431.7 890.9 433.8 C893.8 435.9 896.0 435.7 898.2 437.6 C900.4 439.5 902.3 442.4 904.0 445.4 C905.7 448.4 906.4 452.9 908.3 455.5 C910.2 458.1 913.8 458.4 915.5 461.3 C917.2 464.2 917.2 470.0 918.4 472.9 C919.6 475.8 922.2 476.5 922.8 478.7 C923.4 480.9 921.3 482.0 921.9 485.9 C922.5 489.8 926.5 497.8 926.5 501.9 C926.5 506.0 922.3 507.4 921.9 510.5 C921.5 513.6 923.1 518.2 924.2 520.7 C925.3 523.2 929.6 524.2 928.6 525.6 C927.6 527.0 921.5 527.8 918.4 529.4 C915.2 531.0 913.8 532.7 909.7 535.1 C905.6 537.5 898.6 541.9 893.8 543.8 C889.0 545.7 885.4 545.7 880.8 546.7 C876.2 547.7 869.6 548.6 866.3 549.6 C863.0 550.6 860.6 551.4 861.1 552.5 C861.6 553.6 864.0 554.8 869.2 556.3 C874.4 557.8 884.7 559.7 892.4 561.2 C900.1 562.7 906.6 563.7 915.5 565.5 C924.4 567.3 940.8 571.1 945.9 572.2" fill="none" stroke="#f2c464" stroke-width="3" stroke-linejoin="round" stroke-linecap="round"/>
</svg>

<div class="a t lbl" style="left:535px;top:605px">Tool Type Used</div><div class="a t val" style="left:734px;top:605px">Rigid</div>
<div class="a t lbl" style="left:535px;top:637px">Engineer</div><div class="a t val" style="left:734px;top:637px">Simon Carlson</div>
<div class="a t lbl" style="left:535px;top:669px">Witnessed by</div><div class="a t val" style="left:734px;top:669px">John Tucker</div>
<div class="a t lbl" style="left:535px;top:701px">Vendor</div><div class="a t val" style="left:734px;top:701px">Oil Well Services Corp</div>
<div class="a t lbl" style="left:535px;top:733px">Well Evaluation</div><div class="a t val" style="left:734px;top:733px">Reschedule Diagnostic</div>

<!-- Panel 4 right -->
<div class="a panel" style="left:976px;top:107px;width:441px;height:677px"></div>
<div class="a t ttl" style="left:992px;top:116px">Cycle History</div>
<div class="a" style="left:992px;top:146px;width:409px;height:168px;border:1px solid #d8d8d8"></div>
<div class="a" style="left:993px;top:176.5px;width:407px;height:2px;background:#8e8e8e"></div>
<div class="a t lbl" style="left:1000px;top:155px">Description</div>
<div class="a t lbl" style="left:1100px;top:155px;width:130px;text-align:right"># Steam Cycles</div>
<div class="a t lbl" style="left:1242px;top:155px;width:150px;text-align:right"># Production Cycles</div>
<div class="a t val" style="left:1000px;top:187px">Total Cycles</div><div class="a t val" style="left:1150px;top:187px;width:78px;text-align:right">28</div><div class="a t val" style="left:1300px;top:187px;width:93px;text-align:right">59</div>
<div class="a t val" style="left:1000px;top:219px">425012013003001</div><div class="a t val" style="left:1150px;top:219px;width:78px;text-align:right">12</div><div class="a t val" style="left:1300px;top:219px;width:93px;text-align:right">15</div>
<div class="a t val" style="left:1000px;top:251px">425012013003002</div><div class="a t val" style="left:1150px;top:251px;width:78px;text-align:right">7</div><div class="a t val" style="left:1300px;top:251px;width:93px;text-align:right">25</div>
<div class="a t val" style="left:1000px;top:283px">425012013003003</div><div class="a t val" style="left:1150px;top:283px;width:78px;text-align:right">9</div><div class="a t val" style="left:1300px;top:283px;width:93px;text-align:right">19</div>

<div class="a t ttl" style="left:992px;top:330px">Open Tasks</div>
<svg class="a" style="left:1340px;top:330px" width="62" height="18" viewBox="1340 330 62 18">
 <g stroke="#eee" stroke-width="1.1" fill="none">
  <path d="M1345 333.5h12M1345 336.4h10.4M1345 339.1h8.9M1345 341.8h7M1345 344.4h5.5"/>
  <path d="M1365 335.4h12M1365 339.5h12M1365 343.5h12"/>
  <circle cx="1370.5" cy="335.4" r="1.4" fill="#313131"/><circle cx="1374" cy="339.5" r="1.4" fill="#313131"/><circle cx="1368.4" cy="343.5" r="1.4" fill="#313131"/>
  <rect x="1385.5" y="333.5" width="11" height="11.3" stroke-width="1.2"/>
  <path d="M1386 334.7h10M1386 337h10M1386 339.1h10M1386 341.3h10M1386 343.5h10" stroke-width="0.7"/>
  <path d="M1387.6 334v10.5" stroke-width="0.6"/>
 </g>
</svg>
<div class="a card" style="left:992px;top:357px;width:409px;height:51px"></div>
<div class="a t lbl" style="left:1000px;top:366px">Prepare DOGGR Report</div>
<div class="a t" style="left:1024px;top:388px;font-size:11px;color:#ddd">Assigned by John Allister</div>
<div class="a t" style="left:1338px;top:388px;font-size:11px;color:#ddd">18/06/2019</div>
<div class="a card" style="left:992px;top:416px;width:409px;height:51px"></div>
<div class="a t lbl" style="left:1000px;top:425px">Issue Work Permit for C3091/112</div>
<div class="a t" style="left:1024px;top:447px;font-size:11px;color:#ddd">Assigned by Tara Kyle</div>
<div class="a t" style="left:1338px;top:447px;font-size:11px;color:#ddd">21/06/2019</div>
<svg class="a" style="left:1318px;top:386px" width="13" height="13" viewBox="0 0 13 13">
 <rect x="0.8" y="0.8" width="11.4" height="11.4" fill="none" stroke="#e2674f" stroke-width="1.3"/>
 <path d="M0.8 3.8h11.4" stroke="#a8875a" stroke-width="1.6"/>
 <g fill="#a8875a"><circle cx="5.2" cy="6" r=".7"/><circle cx="7.2" cy="6" r=".7"/><circle cx="9.2" cy="6" r=".7"/><circle cx="3.2" cy="8" r=".7"/><circle cx="5.2" cy="8" r=".7"/><circle cx="7.2" cy="8" r=".7"/><circle cx="9.2" cy="8" r=".7"/><circle cx="3.2" cy="10" r=".7"/><circle cx="5.2" cy="10" r=".7"/><circle cx="7.2" cy="10" r=".7"/></g>
</svg><svg class="a" style="left:1000px;top:384px" width="16" height="17" viewBox="0 0 16 17">
 <circle cx="8" cy="8" r="8" fill="#c9c9c9"/>
 <path d="M5.5 12.5c-.5-3 0-7 2.5-8 2.3-.3 3 2 2.8 4.5-.2 2-.5 3-1 3.5z" fill="#3d3835"/>
 <ellipse cx="8.3" cy="7" rx="1.8" ry="2.6" fill="#b07a55"/>
 <path d="M4.5 16.5c.3-3 1.5-4.5 3.5-4.5s3.2 1.5 3.5 4.5z" fill="#2f6a52"/>
 <path d="M6.7 12.3v4.2M9.3 12.3v4.2" stroke="#eee" stroke-width="1.2"/>
</svg><svg class="a" style="left:1318px;top:445px" width="13" height="13" viewBox="0 0 13 13">
 <rect x="0.8" y="0.8" width="11.4" height="11.4" fill="none" stroke="#d9b050" stroke-width="1.3"/>
 <path d="M0.8 3.8h11.4" stroke="#b79a58" stroke-width="1.6"/>
 <g fill="#b79a58"><circle cx="5.2" cy="6" r=".7"/><circle cx="7.2" cy="6" r=".7"/><circle cx="9.2" cy="6" r=".7"/><circle cx="3.2" cy="8" r=".7"/><circle cx="5.2" cy="8" r=".7"/><circle cx="7.2" cy="8" r=".7"/><circle cx="9.2" cy="8" r=".7"/><circle cx="3.2" cy="10" r=".7"/><circle cx="5.2" cy="10" r=".7"/><circle cx="7.2" cy="10" r=".7"/></g>
</svg><svg class="a" style="left:1000px;top:443px" width="16" height="17" viewBox="0 0 16 17">
 <circle cx="8" cy="8" r="8" fill="#c9c9c9"/>
 <path d="M5.5 12.5c-.5-3 0-7 2.5-8 2.3-.3 3 2 2.8 4.5-.2 2-.5 3-1 3.5z" fill="#3d3835"/>
 <ellipse cx="8.3" cy="7" rx="1.8" ry="2.6" fill="#b07a55"/>
 <path d="M4.5 16.5c.3-3 1.5-4.5 3.5-4.5s3.2 1.5 3.5 4.5z" fill="#6b6b6b"/>
 <path d="M6.7 12.3v4.2M9.3 12.3v4.2" stroke="#eee" stroke-width="1.2"/>
</svg>
<div class="a" style="left:1406px;top:357px;width:5px;height:110px;border-radius:3px;background:#7a7a7a"></div>

<div class="a t ttl" style="left:992px;top:484px">Recommendations</div>
<svg class="a" style="left:1340px;top:482px" width="62" height="18" viewBox="1340 482 62 18">
 <g stroke="#eee" stroke-width="1.1" fill="none">
  <path d="M1345 485.5h12M1345 488.4h10.4M1345 491.1h8.9M1345 493.8h7M1345 496.4h5.5"/>
  <path d="M1365 487.4h12M1365 491.5h12M1365 495.5h12"/>
  <circle cx="1370.5" cy="487.4" r="1.4" fill="#313131"/><circle cx="1374" cy="491.5" r="1.4" fill="#313131"/><circle cx="1368.4" cy="495.5" r="1.4" fill="#313131"/>
  <rect x="1385.5" y="485.5" width="11" height="11.3" stroke-width="1.2"/>
  <path d="M1386 486.7h10M1386 489h10M1386 491.1h10M1386 493.3h10M1386 495.5h10" stroke-width="0.7"/>
  <path d="M1387.6 486v10.5" stroke-width="0.6"/>
 </g>
</svg>
<div class="a card" style="left:992px;top:515px;width:409px;height:72px"></div>
<div class="a t lbl" style="left:1024px;top:524px">Temp Survey Results Higher Than Expected</div>
<div class="a t" style="left:1024px;top:544px;font-size:12px;color:#ddd">Redo temperature survey to confirm data</div>
<div class="a t" style="left:1024px;top:569px;font-size:11px;color:#ddd">18/06/2019</div>
<div class="a t" style="left:1116px;top:569px;font-size:11px;color:#ddd">09:50 AM</div>
<div class="a t" style="left:1341px;top:527px;font-size:10px;color:#ddd">$</div>
<div class="a t" style="left:1349px;top:526px;font-size:18px;font-weight:700;color:#e8e8e8">28.4</div>
<div class="a t" style="left:1388px;top:525px;font-size:10px;color:#ddd">k</div>
<div class="a card" style="left:992px;top:595px;width:409px;height:72px"></div>
<div class="a t lbl" style="left:1024px;top:604px">Secondary Diagnostic Required</div>
<div class="a t" style="left:1024px;top:624px;font-size:12px;color:#ddd">Complete an ad hoc nitrogen test</div>
<div class="a t" style="left:1024px;top:649px;font-size:11px;color:#ddd">19/06/2019</div>
<div class="a t" style="left:1116px;top:649px;font-size:11px;color:#ddd">09:50 AM</div>
<div class="a t" style="left:1341px;top:607px;font-size:10px;color:#ddd">$</div>
<div class="a t" style="left:1349px;top:606px;font-size:18px;font-weight:700;color:#e8e8e8">17.9</div>
<div class="a t" style="left:1388px;top:605px;font-size:10px;color:#ddd">k</div>
<div class="a card" style="left:992px;top:675px;width:409px;height:72px"></div>
<div class="a t lbl" style="left:1024px;top:684px">Predicted Choke Valve Failure</div>
<div class="a t" style="left:1024px;top:704px;font-size:12px;color:#ddd">High sand content detected in flow</div>
<div class="a t" style="left:1024px;top:729px;font-size:11px;color:#ddd">24/06/2019</div>
<div class="a t" style="left:1116px;top:729px;font-size:11px;color:#ddd">09:50 AM</div>
<div class="a t" style="left:1341px;top:687px;font-size:10px;color:#ddd">$</div>
<div class="a t" style="left:1349px;top:686px;font-size:18px;font-weight:700;color:#e8e8e8">15.3</div>
<div class="a t" style="left:1388px;top:685px;font-size:10px;color:#ddd">k</div>
<svg class="a" style="left:1000px;top:523px" width="18" height="22" viewBox="1000 523 18 22">
 <path d="M1004.9 531a3.6 3.5 0 1 1 6.2 2.5l-2.5 2v0.3" fill="none" stroke="#e8c35a" stroke-width="3.4" stroke-linecap="square" stroke-linejoin="round"/>
 <path d="M1004.9 531a3.6 3.5 0 1 1 6.2 2.5l-2.5 2v0.3" fill="none" stroke="#454545" stroke-width="1" stroke-linecap="butt" stroke-linejoin="round"/>
 <rect x="1006.6" y="539" width="3.4" height="3" fill="none" stroke="#e8c35a" stroke-width="1.3"/>
</svg><svg class="a" style="left:996.5px;top:601px" width="20" height="20" viewBox="0 0 20 20">
 <path d="M10.5 2.2a4.2 4.2 0 0 1 6 5.6 4.2 4.2 0 0 1-5 1.3l-6.2 6.4a1.7 1.7 0 0 1-2.8-2.5l6.3-6.3a4 4 0 0 1 1.7-4.5zM13.2 2.9l-1.6 2.6 1.5 1.4 2.9-1.4" fill="none" stroke="#e8674f" stroke-width="1.4" stroke-linejoin="round"/>
</svg><svg class="a" style="left:999px;top:685px" width="19" height="13" viewBox="0 0 19 13">
 <path d="M1.5 2.2h3.2M2 2.4v2.2l2.5 1.2v4.8h8.3l3.2-5.6 2-1.8M4.5 5.2h6.8l1.5 1.4M6.7 1.2h3M8.2 1.2v2.8" fill="none" stroke="#3fa0d8" stroke-width="1.5" stroke-linejoin="round"/>
 <path d="M17 6.5l-.9 2.2h1.8z" fill="#3fa0d8"/>
</svg>
<div class="a" style="left:1406px;top:595px;width:5px;height:152px;border-radius:3px;background:#7a7a7a"></div>

<div class="a" style="left:1440px;top:0;width:1px;height:795px;background:#bbb"></div>
</div></body></html>
